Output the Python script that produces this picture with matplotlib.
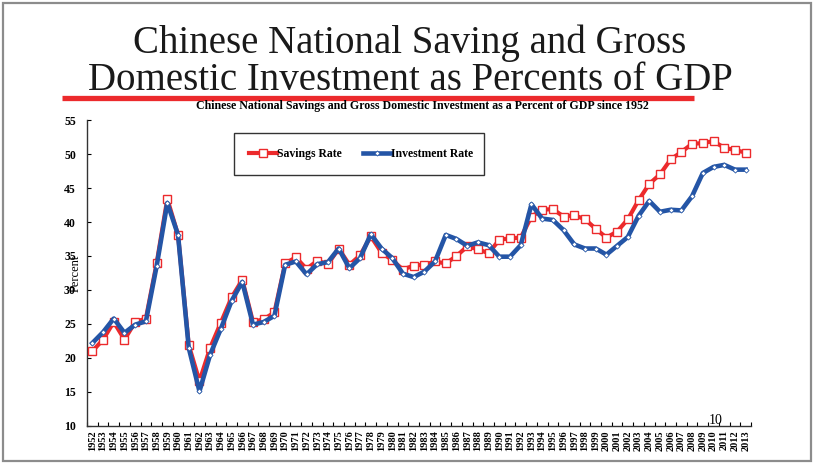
import matplotlib
matplotlib.use("Agg")
import matplotlib.pyplot as plt
from matplotlib.patches import Rectangle
from matplotlib.lines import Line2D
import numpy as np

# Savings and investment as % of GDP, 1952-2013
years = list(range(1952, 2014))
savings_rate = [21.0, 22.7, 25.3, 22.7, 25.3, 25.8, 33.9, 43.4, 38.1, 21.9,
                16.6, 21.5, 25.2, 28.9, 31.5, 25.3, 25.7, 26.7, 33.9, 34.8,
                33.1, 34.3, 33.8, 36.1, 33.7, 35.1, 37.9, 35.5, 34.4, 33.0,
                33.6, 33.7, 34.2, 33.9, 35.0, 36.4, 36.0, 35.4, 37.4, 37.6,
                37.7, 40.8, 41.8, 41.9, 40.8, 41.0, 40.4, 39.0, 37.7, 38.6,
                40.4, 43.2, 45.6, 47.0, 49.2, 50.3, 51.5, 51.6, 51.9, 50.9,
                50.6, 50.2]
investment_rate = [22.2, 23.8, 25.8, 23.7, 24.9, 25.4, 33.5, 42.8, 38.1, 21.5,
                   15.1, 20.5, 24.3, 28.4, 31.2, 24.9, 25.3, 26.2, 33.7, 34.2,
                   32.3, 33.8, 34.1, 36.1, 33.2, 34.7, 38.2, 36.1, 34.7, 32.4,
                   31.9, 32.7, 34.2, 38.1, 37.5, 36.5, 37.0, 36.6, 34.9, 34.9,
                   36.6, 42.6, 40.5, 40.3, 38.8, 36.7, 36.1, 36.1, 35.2, 36.5,
                   37.8, 40.9, 43.1, 41.5, 41.8, 41.7, 43.8, 47.2, 48.1, 48.4,
                   47.7, 47.7]
y_ticks = [10, 15, 20, 25, 30, 35, 40, 45, 50, 55]

RED = "#EC2A2C"
BLUE = "#2455A6"
SERIF = "Liberation Serif"

plt.rcParams["font.family"] = [SERIF, "DejaVu Serif"]

fig = plt.figure(figsize=(8.15, 4.66), dpi=100)
W, H = 815, 466

def fx(px):
    return px / W

def fy(py):
    return 1 - py / H

# slide frame
fig.patches.append(Rectangle((fx(3), fy(461)), fx(808), 458 / H, transform=fig.transFigure,
                             fill=False, edgecolor="#8c8c8c", linewidth=1.6))

# slide title + red rule
fig.text(fx(410), fy(53), "Chinese National Saving and Gross", ha="center", va="baseline",
         fontsize=28, color="#1a1a1a")
fig.text(fx(410), fy(90), "Domestic Investment as Percents of GDP", ha="center", va="baseline",
         fontsize=28, color="#1a1a1a")
fig.add_artist(Line2D([fx(62), fx(694)], [fy(97.5), fy(97.5)], transform=fig.transFigure,
                      color=RED, linewidth=3.8, solid_capstyle="butt"))
fig.text(fx(422), fy(106.5), "Chinese National Savings and Gross Domestic Investment as a Percent of GDP since 1952",
         ha="center", va="center", fontsize=8.6, fontweight="bold")

ax = fig.add_axes([fx(87), fy(426), fx(751) - fx(87), (426 - 120) / H])
x = np.arange(len(years))

ax.plot(x, savings_rate, color=RED, linewidth=3.0, marker="s", markersize=5.2,
        markerfacecolor="white", markeredgecolor=RED, markeredgewidth=1.0,
        label="Savings Rate", zorder=3)
ax.plot(x, investment_rate, color=BLUE, linewidth=3.3, marker="D", markersize=2.6,
        markerfacecolor="white", markeredgecolor=BLUE, markeredgewidth=0.6,
        label="Investment Rate", zorder=4)

ax.set_xlim(-0.5, len(years) - 0.5)
ax.set_ylim(10, 55)
ax.set_yticks(y_ticks)
ax.set_yticklabels([str(v) for v in y_ticks], fontsize=8.5, fontweight="bold")
ax.set_xticks(x)
ax.set_xticklabels([str(y) for y in years], rotation=90, fontsize=7.5, fontweight="bold")
ax.set_xticks(np.arange(len(years) + 1) - 0.5, minor=True)
ax.tick_params(axis="x", which="major", length=0, pad=3)
ax.tick_params(axis="x", which="minor", length=3, direction="in", width=0.8)
ax.tick_params(axis="y", length=3, direction="in", width=0.8, pad=8)
for s in ["top", "right"]:
    ax.spines[s].set_visible(False)
for s in ["left", "bottom"]:
    ax.spines[s].set_linewidth(1.0)
    ax.spines[s].set_color("#333333")

ax.set_ylabel("Percent", fontsize=9, labelpad=-13)

# legend box
fig.patches.append(Rectangle((fx(234), fy(175)), fx(250), 42 / H, transform=fig.transFigure,
                             fill=False, edgecolor="#333333", linewidth=1.0))
fig.legend(loc="center", bbox_to_anchor=(fx(361), fy(154)), ncol=2, frameon=False,
           prop={"family": SERIF, "weight": "bold", "size": 8.5}, handlelength=2.4,
           columnspacing=1.8, handletextpad=0.0, markerscale=1.0)

# slide number
fig.text(fx(716), fy(421), "10", ha="center", va="center", fontsize=10)

fig.savefig("out.png", dpi=100)
